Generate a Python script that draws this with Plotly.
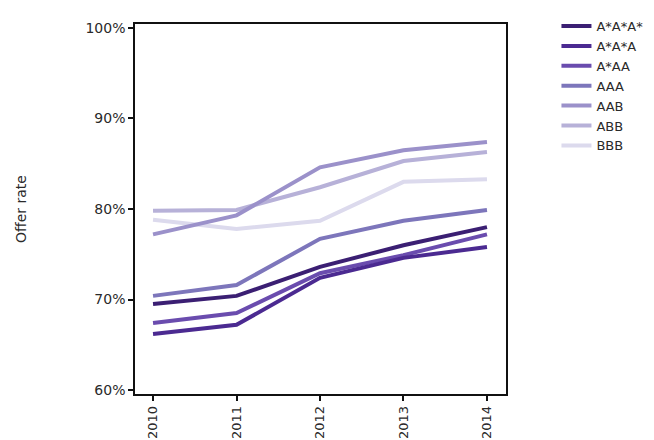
import plotly.graph_objects as go

years = [2010, 2011, 2012, 2013, 2014]

grades = ["A*A*A*", "A*A*A", "A*AA", "AAA", "AAB", "ABB", "BBB"]

offer_astar3 = [69.5, 70.4, 73.6, 76.0, 78.0]
offer_astar2a = [66.2, 67.2, 72.4, 74.6, 75.8]
offer_astaraa = [67.4, 68.5, 72.9, 74.9, 77.2]
offer_aaa = [70.4, 71.6, 76.7, 78.7, 79.9]
offer_aab = [77.2, 79.3, 84.6, 86.5, 87.4]
offer_abb = [79.8, 79.9, 82.4, 85.3, 86.3]
offer_bbb = [78.8, 77.8, 78.7, 83.0, 83.3]

series = [offer_astar3, offer_astar2a, offer_astaraa, offer_aaa,
          offer_aab, offer_abb, offer_bbb]

colors = ["#3b1f73", "#4b2a91", "#6a4cae", "#7d76bb",
          "#9b91ca", "#b7b1d8", "#dcdaed"]

y_tick_vals = [60, 70, 80, 90, 100]
y_tick_text = ["60%", "70%", "80%", "90%", "100%"]
x_tick_text = ["2010", "2011", "2012", "2013", "2014"]

FONT = "DejaVu Sans"
TXT = "#2a2a2a"

fig = go.Figure()
# draw lightest first so the darkest lines sit on top
for name, vals, col in reversed(list(zip(grades, series, colors))):
    fig.add_trace(go.Scatter(
        x=years, y=vals, name=name, mode="lines",
        line=dict(color=col, width=4),
    ))

fig.update_layout(
    template="none",
    width=654, height=440,
    margin=dict(l=127, r=156, t=16, b=54, autoexpand=False),
    paper_bgcolor="white", plot_bgcolor="white",
    font=dict(family=FONT, size=14, color=TXT),
    showlegend=True,
    legend=dict(
        traceorder="reversed",
        x=1.136, xanchor="left", y=1.035, yanchor="top",
        font=dict(family=FONT, size=13, color=TXT),
        bgcolor="rgba(0,0,0,0)", borderwidth=0,
    ),
    xaxis=dict(
        automargin=False,
        range=[2009.784, 2014.228],
        tickvals=years, ticktext=x_tick_text, tickangle=-90,
        showgrid=False, zeroline=False,
        showline=True, linecolor="#111", linewidth=1.5, mirror=True,
        ticks="outside", ticklen=5, tickcolor="#111", tickwidth=1.5,
        tickfont=dict(family=FONT, size=13, color=TXT),
    ),
    yaxis=dict(
        automargin=False,
        range=[59.56, 100.44],
        tickvals=y_tick_vals, ticktext=y_tick_text,
        showgrid=False, zeroline=False,
        showline=True, linecolor="#111", linewidth=1.5, mirror=True,
        ticks="outside", ticklen=5, tickcolor="#111", tickwidth=1.5,
        tickfont=dict(family=FONT, size=14, color=TXT),
        title=dict(text="Offer rate", standoff=56,
                   font=dict(family=FONT, size=14, color=TXT)),
    ),
)

fig.write_html("out.html")
